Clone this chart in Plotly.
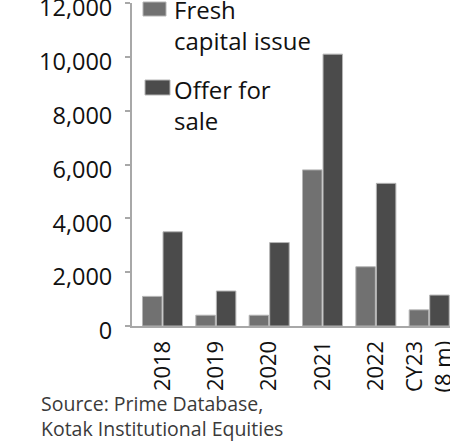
import plotly.graph_objects as go

# Issue size by type of offering (Rs bn)
categories = ["2018", "2019", "2020", "2021", "2022", "CY23<br>(8 m)"]
fresh_issue = [1100, 400, 400, 5800, 2200, 600]
offer_for_sale = [3500, 1300, 3100, 10100, 5300, 1150]
y_ticks = [0, 2000, 4000, 6000, 8000, 10000, 12000]
y_tick_text = ["0", "2,000", "4,000", "6,000", "8,000", "10,000", "12,000"]

FRESH_COLOR = "#717171"
OFS_COLOR = "#4b4b4b"
EDGE_COLOR = "#b5b5b5"
FONT = "Open Sans"

W, H = 450, 443
L, R, T, B = 132, 0, 3, 117
PW, PH = W - L - R, H - T - B


def px_x(px):
    return (px - L) / PW


def px_y(py):
    return (H - B - py) / PH


fig = go.Figure()
fig.add_trace(go.Bar(
    x=categories, y=fresh_issue, name="Fresh capital issue",
    marker=dict(color=FRESH_COLOR, line=dict(color=EDGE_COLOR, width=1)),
))
fig.add_trace(go.Bar(
    x=categories, y=offer_for_sale, name="Offer for sale",
    marker=dict(color=OFS_COLOR, line=dict(color=EDGE_COLOR, width=1)),
))

# Legend drawn as swatches + text inside the plot's top-left corner
legend_items = [
    (FRESH_COLOR, "Fresh<br>capital issue", 2, 16, 143, 166, -9),
    (OFS_COLOR, "Offer for<br>sale", 80, 95, 145, 170, 71),
]
for color, label, y0, y1, x0, x1, text_top in legend_items:
    fig.add_shape(
        type="rect", xref="paper", yref="paper",
        x0=px_x(x0), x1=px_x(x1), y0=px_y(y1), y1=px_y(y0),
        fillcolor=color, line=dict(color=EDGE_COLOR, width=1), layer="above",
    )
    fig.add_annotation(
        xref="paper", yref="paper", x=px_x(172), y=px_y(text_top),
        xanchor="left", yanchor="top", align="left", showarrow=False,
        text=label, font=dict(family=FONT, size=24, color="#111111"),
    )

fig.add_annotation(
    xref="paper", yref="paper", x=px_x(39), y=px_y(388),
    xanchor="left", yanchor="top", align="left", showarrow=False,
    text="Source: Prime Database,<br>Kotak Institutional Equities",
    font=dict(family=FONT, size=19.5, color="#3a3a3a"),
)

fig.update_layout(
    width=W, height=H,
    margin=dict(l=L, r=R, t=T, b=B, pad=0, autoexpand=False),
    paper_bgcolor="white", plot_bgcolor="white",
    barmode="group", bargap=0.23, bargroupgap=0.05,
    showlegend=False,
    font=dict(family=FONT, size=23, color="#111111"),
)
fig.update_yaxes(
    range=[0, 12000], tickvals=y_ticks, ticktext=y_tick_text,
    automargin=False,
    showgrid=False, zeroline=False,
    showline=True, linecolor="#a8a8a8", linewidth=2,
    ticks="outside", ticklen=5, tickcolor="#a8a8a8", tickwidth=2,
    ticklabelshift=5, ticklabelstandoff=8, ticklabeloverflow="allow",
    tickfont=dict(family=FONT, size=23.5, color="#111111"),
)
fig.update_xaxes(
    type="category", range=[-0.572, 5.39],
    automargin=False,
    showgrid=False, zeroline=False,
    showline=True, linecolor="#a8a8a8", linewidth=2,
    ticks="", tickangle=-90, ticklabelstandoff=4,
    tickfont=dict(family=FONT, size=22, color="#111111"),
)

fig.write_html("out.html")
